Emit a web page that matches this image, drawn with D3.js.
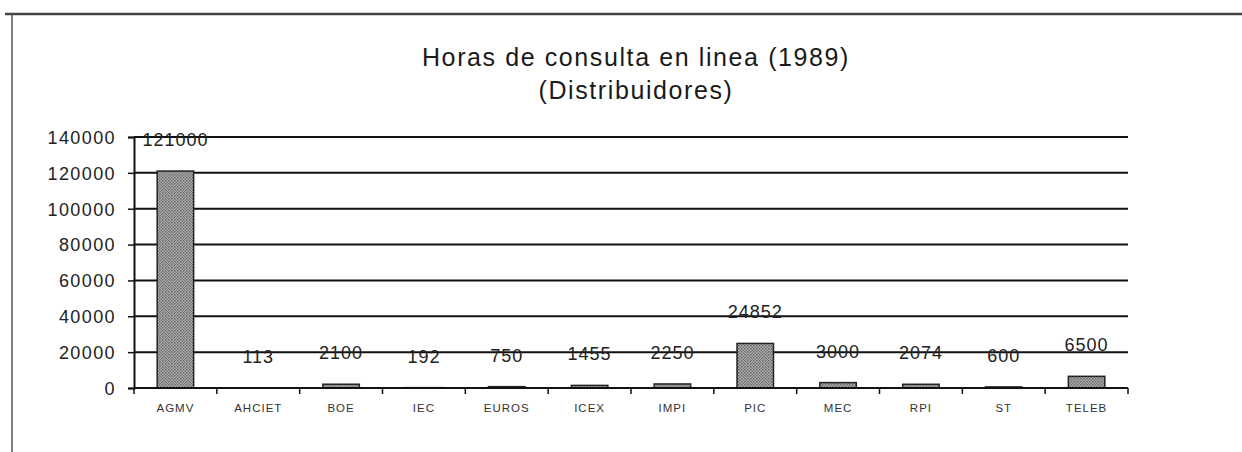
<!DOCTYPE html>
<meta charset="utf-8">
<head>
	<script type="text/javascript" src="https://cdn.jsdelivr.net/npm/d3@7"></script>
	<style>
		body { margin: 0; background: #fff; }
		text { font-family: Arial, "Liberation Sans", sans-serif; }
	</style>
</head>
<body>
	<svg id="chart" width="1242" height="452"></svg>
</body>
<script type="text/javascript">
	// data
	var categories = ["AGMV", "AHCIET", "BOE", "IEC", "EUROS", "ICEX", "IMPI", "PIC", "MEC", "RPI", "ST", "TELEB"];
	var hours = [121000, 113, 2100, 192, 750, 1455, 2250, 24852, 3000, 2074, 600, 6500];
	var yTicks = [0, 20000, 40000, 60000, 80000, 100000, 120000, 140000];
	var titleLines = ["Horas de consulta en linea (1989)", "(Distribuidores)"];

	var svg = d3.select('#chart');
	// note: "top" is taken by window.top, so use other names
	var plotLeft = 134, plotRight = 1128, plotTop = 137, plotBottom = 388;

	var x = d3.scaleBand().domain(categories).range([plotLeft, plotRight]).paddingInner(0.56).paddingOuter(0.28);
	var y = d3.scaleLinear().domain([0, 140000]).range([plotBottom, plotTop]);

	// pattern for the bars (dotted grey)
	var defs = svg.append('defs');
	var pat = defs.append('pattern').attr('id', 'dots').attr('width', 3).attr('height', 3)
		.attr('patternUnits', 'userSpaceOnUse');
	pat.append('rect').attr('width', 3).attr('height', 3).attr('fill', '#b0b0b0');
	pat.append('rect').attr('width', 1.5).attr('height', 1.5).attr('fill', '#666');
	pat.append('rect').attr('x', 1.5).attr('y', 1.5).attr('width', 1.5).attr('height', 1.5).attr('fill', '#777');

	// frame
	svg.append('line').attr('x1', 5).attr('x2', 1242).attr('y1', 14).attr('y2', 14)
		.attr('stroke', '#444').attr('stroke-width', 2.5);
	svg.append('line').attr('x1', 12).attr('x2', 12).attr('y1', 14).attr('y2', 452)
		.attr('stroke', '#555').attr('stroke-width', 1.5);

	// title
	svg.selectAll('.title').data(titleLines).enter().append('text')
		.attr('x', 636).attr('y', function(d, i){ return 66 + i * 33; })
		.attr('text-anchor', 'middle').attr('font-size', 25).attr('fill', '#1a1a1a')
		.attr('letter-spacing', 1.6).text(function(d){ return d; });

	// gridlines
	svg.append('g').selectAll('line').data(yTicks.slice(1)).enter().append('line')
		.attr('x1', plotLeft).attr('x2', plotRight)
		.attr('y1', function(d){ return y(d); }).attr('y2', function(d){ return y(d); })
		.attr('stroke', '#111').attr('stroke-width', 2);

	// y axis
	var yAxis = svg.append('g').attr('transform', 'translate(' + plotLeft + ',0)')
		.call(d3.axisLeft(y).tickValues(yTicks).tickSize(6).tickPadding(12).tickFormat(d3.format('d')));
	yAxis.select('.domain').attr('stroke', '#111').attr('stroke-width', 2);
	yAxis.selectAll('.tick line').attr('stroke', '#111').attr('stroke-width', 1.5);
	yAxis.selectAll('.tick text').attr('font-size', 18).attr('fill', '#222')
		.attr('letter-spacing', 1.4).attr('dy', '0.35em')
		.attr('font-family', 'Arial, "Liberation Sans", sans-serif');

	// bars
	svg.append('g').selectAll('rect').data(categories).enter().append('rect')
		.attr('x', function(d){ return x(d); })
		.attr('width', x.bandwidth())
		.attr('y', function(d, i){ return y(hours[i]); })
		.attr('height', function(d, i){ return plotBottom - y(hours[i]); })
		.attr('fill', 'url(#dots)').attr('stroke', '#222').attr('stroke-width', 1.5);

	// x axis
	var step = x.step();
	var xAxis = svg.append('g').attr('transform', 'translate(0,' + plotBottom + ')');
	xAxis.append('line').attr('x1', plotLeft).attr('x2', plotRight).attr('stroke', '#111').attr('stroke-width', 2);
	xAxis.selectAll('.xt').data(d3.range(categories.length + 1)).enter().append('line')
		.attr('x1', function(i){ return plotLeft + i * step; }).attr('x2', function(i){ return plotLeft + i * step; })
		.attr('y1', 0).attr('y2', 6).attr('stroke', '#111').attr('stroke-width', 1.5);
	xAxis.selectAll('text').data(categories).enter().append('text')
		.attr('x', function(d){ return x(d) + x.bandwidth() / 2; }).attr('y', 24)
		.attr('text-anchor', 'middle').attr('font-size', 11.5).attr('fill', '#333')
		.attr('letter-spacing', 1).text(function(d){ return d; });

	// value labels
	svg.append('g').selectAll('text').data(categories).enter().append('text')
		.attr('x', function(d){ return x(d) + x.bandwidth() / 2; })
		.attr('y', function(d, i){ return y(hours[i]) - 25; })
		.attr('text-anchor', 'middle').attr('font-size', 18).attr('fill', '#222')
		.attr('letter-spacing', 1).text(function(d, i){ return hours[i]; });
</script>
